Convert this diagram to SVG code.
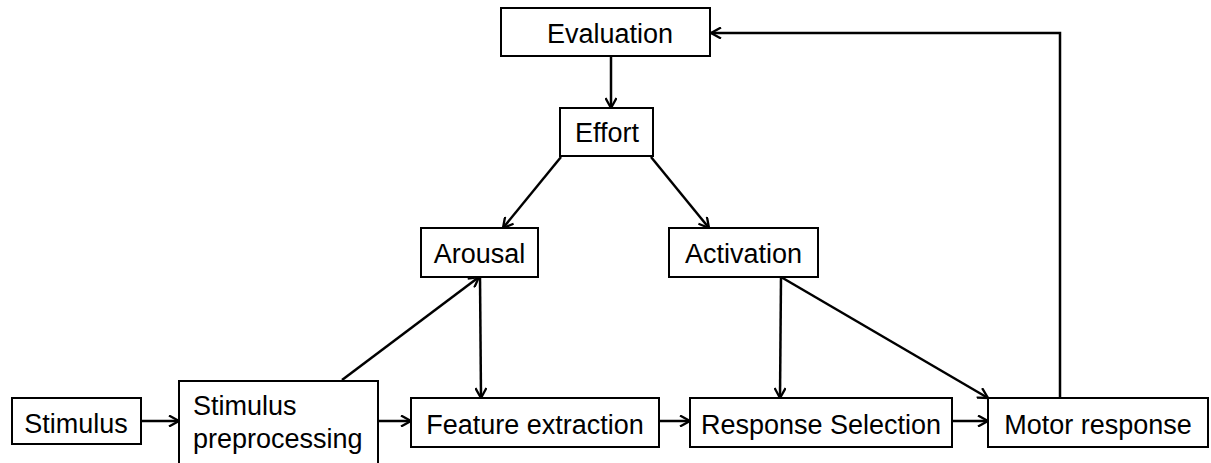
<svg xmlns="http://www.w3.org/2000/svg" width="1211" height="463" viewBox="0 0 1211 463">
<style>
.box{fill:#fff;stroke:#000;stroke-width:2}
.lbl{font-family:"Liberation Sans",Arial,sans-serif;font-size:27px;fill:#000}
.c{text-anchor:middle}
.ln{fill:none;stroke:#000;stroke-width:2.5}
</style>
<defs>
<marker id="ah" viewBox="0 0 12 12" refX="11" refY="6" markerWidth="12" markerHeight="12" markerUnits="userSpaceOnUse" orient="auto">
<path d="M1,0.5 L11,6 L1,11.5" fill="none" stroke="#000" stroke-width="2.3"/>
</marker>
</defs>
<rect width="1211" height="463" fill="#fff"/>
<g id="connectors">
<line class="ln" x1="141" y1="421" x2="179" y2="421" marker-end="url(#ah)"/>
<line class="ln" x1="378" y1="421" x2="411" y2="421" marker-end="url(#ah)"/>
<line class="ln" x1="659" y1="421" x2="690" y2="421" marker-end="url(#ah)"/>
<line class="ln" x1="952" y1="421" x2="988" y2="421" marker-end="url(#ah)"/>
<polyline class="ln" points="1060,398 1060,33 711,33" marker-end="url(#ah)"/>
<line class="ln" x1="611" y1="56" x2="611" y2="108" marker-end="url(#ah)"/>
<line class="ln" x1="561" y1="157" x2="503" y2="228" marker-end="url(#ah)"/>
<line class="ln" x1="651" y1="157" x2="709" y2="228" marker-end="url(#ah)"/>
<line class="ln" x1="342" y1="380" x2="479" y2="277" marker-end="url(#ah)"/>
<line class="ln" x1="480" y1="277" x2="481" y2="398" marker-end="url(#ah)"/>
<line class="ln" x1="781" y1="277" x2="780" y2="398" marker-end="url(#ah)"/>
<line class="ln" x1="781" y1="277" x2="988" y2="398" marker-end="url(#ah)"/>
</g>
<g id="stimulus">
<rect class="box" x="12" y="398" width="129" height="46"/>
<text class="lbl c" x="76" y="433">Stimulus</text>
</g>
<g id="preprocessing">
<rect class="box" x="179" y="381" width="199" height="95"/>
<text class="lbl" x="193" y="415">Stimulus</text>
<text class="lbl" x="193" y="448">preprocessing</text>
</g>
<g id="feature">
<rect class="box" x="411" y="398" width="248" height="49"/>
<text class="lbl c" x="535" y="434">Feature extraction</text>
</g>
<g id="response">
<rect class="box" x="690" y="398" width="262" height="49"/>
<text class="lbl c" x="821" y="434">Response Selection</text>
</g>
<g id="motor">
<rect class="box" x="988" y="398" width="220" height="49"/>
<text class="lbl c" x="1098" y="434">Motor response</text>
</g>
<g id="evaluation">
<rect class="box" x="501" y="8" width="209" height="48"/>
<text class="lbl c" x="610" y="43">Evaluation</text>
</g>
<g id="effort">
<rect class="box" x="560" y="108" width="93" height="48"/>
<text class="lbl c" x="607" y="142">Effort</text>
</g>
<g id="arousal">
<rect class="box" x="421" y="228" width="117" height="49"/>
<text class="lbl c" x="479.5" y="263">Arousal</text>
</g>
<g id="activation">
<rect class="box" x="669" y="228" width="149" height="49"/>
<text class="lbl c" x="743.5" y="263">Activation</text>
</g>
</svg>
